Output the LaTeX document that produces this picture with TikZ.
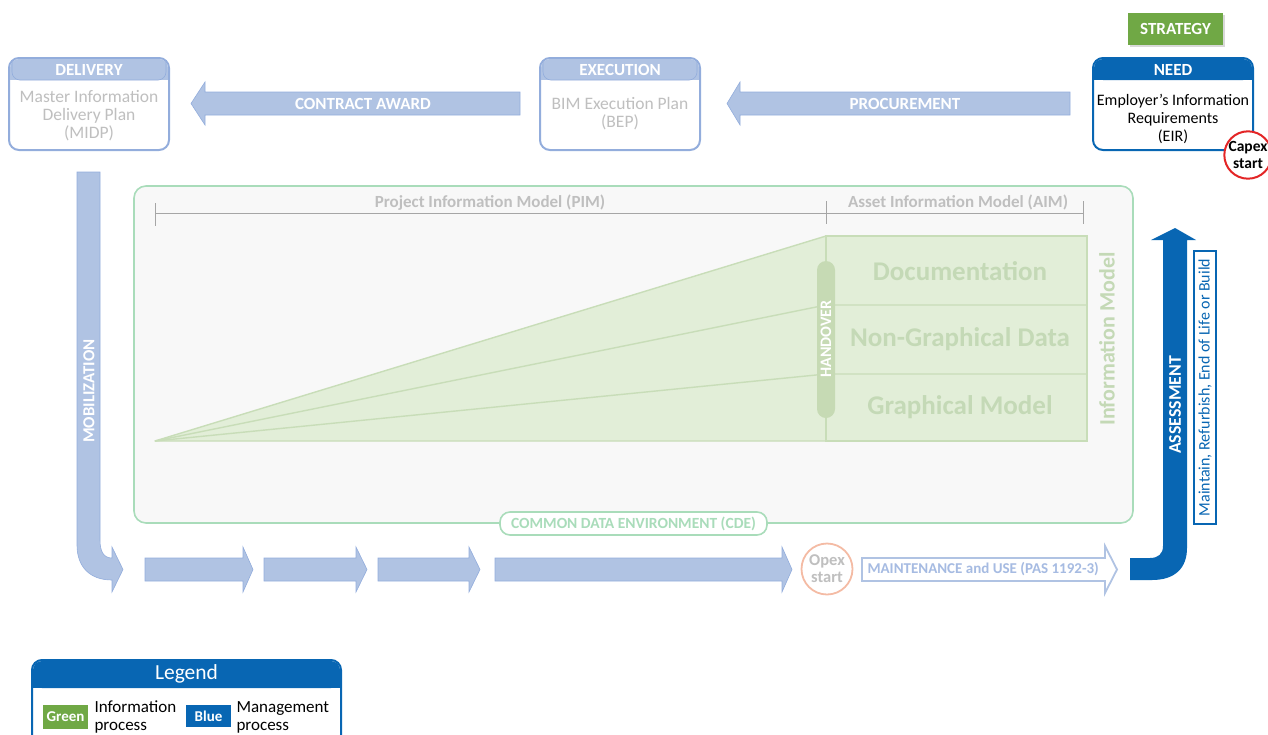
\documentclass[tikz,border=0pt]{standalone}
\usepackage{fontspec}
\setmainfont{Carlito}
\usetikzlibrary{calc}
\definecolor{lblue}{HTML}{B0C3E3}
\definecolor{lbluedk}{HTML}{93ADDC}
\definecolor{dblue}{HTML}{0866B3}
\definecolor{sgreen}{HTML}{70A845}
\definecolor{cdegreen}{HTML}{A9DCBA}
\definecolor{cdefill}{HTML}{F8F8F8}
\definecolor{imfill}{HTML}{E2EED8}
\definecolor{imline}{HTML}{C8DDB8}
\definecolor{imtext}{HTML}{C4D9B6}
\definecolor{hofill}{HTML}{C6DAB4}
\definecolor{gtext}{HTML}{BFBFBF}
\definecolor{dimgray}{HTML}{A6A6A6}
\definecolor{capexred}{HTML}{E32526}
\definecolor{opexsal}{HTML}{F4BBA4}
\definecolor{mainttext}{HTML}{A6BBE2}
\newcommand{\fs}[2]{\fontsize{#1}{#2}\selectfont}
\tikzset{
  hdtext/.style={text=white,font=\fs{17}{18}\bfseries},
  bodytext/.style={text=gtext,font=\fs{17.5}{18},align=center},
  arrowfill/.style={fill=lblue,draw=lbluedk,line width=0.6pt},
  arrowtext/.style={text=white,font=\fs{17}{18}\bfseries},
  layertext/.style={text=imtext,font=\fs{27}{28}\bfseries},
  dimtext/.style={text=gtext,font=\fs{17}{18}\bfseries},
}
\begin{document}
\begin{tikzpicture}[x=1pt,y=-1pt]
\useasboundingbox (0,0) rectangle (1268,734);

% ---------- top boxes ----------
% DELIVERY
\draw[lbluedk,line width=2pt,fill=white,rounded corners=10pt] (9,58) rectangle (169,150);
\fill[lblue,rounded corners=9pt] (10,59) rectangle (168,80);
\fill[lblue] (10,70) rectangle (168,80);
\draw[lbluedk,line width=0.6pt,rounded corners=8pt] (12,61) -- (12,80) -- (166,80) -- (166,61);
\node[hdtext] (delh) at (89,69.5) {DELIVERY};
\node[bodytext] (delb) at (89,116) {Master Information\\Delivery Plan\\(MIDP)};

% EXECUTION
\draw[lbluedk,line width=2pt,fill=white,rounded corners=10pt] (540,58) rectangle (700,150);
\fill[lblue,rounded corners=9pt] (541,59) rectangle (699,80);
\fill[lblue] (541,70) rectangle (699,80);
\draw[lbluedk,line width=0.6pt,rounded corners=8pt] (543,61) -- (543,80) -- (697,80) -- (697,61);
\node[hdtext] (exeh) at (620,69.5) {EXECUTION};
\node[bodytext] (exeb) at (620,114) {BIM Execution Plan\\(BEP)};

% NEED
\draw[dblue,line width=2pt,fill=white,rounded corners=10pt] (1093,58) rectangle (1253,150);
\fill[dblue,rounded corners=9pt] (1094,59) rectangle (1252,80);
\fill[dblue] (1094,70) rectangle (1252,80);
\node[hdtext] (needh) at (1173,69.5) {NEED};
\node[text=black,font=\fs{16}{18},align=center] (needb) at (1173,119) {Employer's Information\\Requirements\\(EIR)};

% STRATEGY
\fill[black!15] (1130,15) rectangle (1225,47);
\fill[sgreen] (1128,13) rectangle (1223,45);
\node[hdtext] (strat) at (1175.5,29) {STRATEGY};

% Capex start
\node[circle,draw=capexred,line width=2pt,fill=white,minimum size=44pt,inner sep=0pt,
  font=\fs{15.5}{17}\bfseries,align=center,text=black] (capex) at (1248,155) {Capex\\start};

% top arrows
\path[arrowfill] (520,92) -- (205,92) -- (205,82) -- (191,103.5) -- (205,125) -- (205,115) -- (520,115) -- cycle;
\node[arrowtext] (contract) at (363,103.5) {CONTRACT AWARD};
\path[arrowfill] (1070,92) -- (740,92) -- (740,82) -- (727,103.5) -- (740,125) -- (740,115) -- (1070,115) -- cycle;
\node[arrowtext] (procure) at (905,103.5) {PROCUREMENT};

% ---------- CDE ----------
\draw[cdegreen,line width=1.6pt,fill=cdefill,rounded corners=12pt] (134,186) rectangle (1133,523);

% dimension lines
\draw[dimgray,line width=1pt] (155,213) -- (1083,213);
\draw[dimgray,line width=1pt] (155,203) -- (155,226);
\draw[dimgray,line width=1pt] (826,201) -- (826,224);
\draw[dimgray,line width=1pt] (1083,201) -- (1083,224);
\node[dimtext] (pim) at (490,202.5) {Project Information Model (PIM)};
\node[dimtext] (aim) at (958,202.5) {Asset Information Model (AIM)};

% wedge and layers
\draw[imline,line width=1.4pt,fill=imfill,line join=round] (155,441) -- (826,236) -- (826,441) -- cycle;
\draw[imline,line width=1.4pt,fill=imfill] (826,236) rectangle (1087,441);
\draw[imline,line width=1.4pt] (155,441) -- (826,305) -- (1087,305);
\draw[imline,line width=1.4pt] (155,441) -- (826,374) -- (1087,374);
\node[layertext] (doc) at (960,271) {Documentation};
\node[layertext] (ngd) at (960,339) {Non-Graphical Data};
\node[layertext] (gm) at (960,407) {Graphical Model};
\node[rotate=90,text=imtext,font=\fs{22}{24}\bfseries] (infm) at (1107,339) {Information Model};

% handover pill
\fill[hofill,rounded corners=9pt] (817,261) rectangle (835,418);
\node[rotate=90,text=white,font=\fs{16}{17}\bfseries] (hand) at (826,339) {HANDOVER};

% CDE label
\node[draw=cdegreen,line width=1.6pt,fill=white,rounded corners=10pt,minimum width=267pt,minimum height=23pt,
  inner sep=0pt,text=cdegreen,font=\fs{15.5}{16}\bfseries] (cde) at (633.5,523.5) {COMMON DATA ENVIRONMENT (CDE)};

% ---------- mobilization ----------
\path[arrowfill] (77,172) -- (100,172) -- (100,540) .. controls (100,552) and (104,558) .. (112,558)
  -- (112,547) -- (123,569.5) -- (112,592) -- (112,580) .. controls (90,580) and (77,567) .. (77,545) -- cycle;
\node[rotate=90,text=white,font=\fs{16.8}{18}\bfseries] (mob) at (89,391) {MOBILIZATION};

% right arrows
\path[arrowfill] (145,558) -- (243,558) -- (243,547) -- (253,569.5) -- (243,592) -- (243,581) -- (145,581) -- cycle;
\path[arrowfill] (264,558) -- (356,558) -- (356,547) -- (367,569.5) -- (356,592) -- (356,581) -- (264,581) -- cycle;
\path[arrowfill] (378,558) -- (469,558) -- (469,547) -- (480,569.5) -- (469,592) -- (469,581) -- (378,581) -- cycle;
\path[arrowfill] (495,558) -- (782,558) -- (782,547) -- (792,569.5) -- (782,592) -- (782,581) -- (495,581) -- cycle;

% Opex start
\node[circle,draw=opexsal,line width=1.8pt,fill=white,minimum size=51pt,inner sep=0pt,
  font=\fs{16.5}{17}\bfseries,align=center,text=gtext] (opex) at (827,569) {Opex\\start};

% maintenance arrow
\draw[lblue,line width=1.8pt,fill=white,line join=miter] (862,558) -- (1105,558) -- (1105,546) -- (1117,569.5) -- (1105,593) -- (1105,581) -- (862,581) -- cycle;
\node[text=mainttext,font=\fs{15}{16}\bfseries,anchor=west] (maint) at (864,569.5) {MAINTENANCE and USE (PAS 1192-3)};

% assessment arrow
\fill[dblue] (1130,558) -- (1150,558) .. controls (1158,558) and (1163,554) .. (1163,546) -- (1163,240)
  -- (1151,240) -- (1175,228) -- (1196,240) -- (1187,240) -- (1187,548) .. controls (1187,568) and (1175,580) .. (1152,580)
  -- (1130,580) -- cycle;
\node[rotate=90,text=white,font=\fs{17.8}{18}\bfseries] (assess) at (1175,405) {ASSESSMENT};
\node[draw=dblue,line width=1.5pt,fill=white,rotate=90,minimum width=273pt,minimum height=22pt,inner sep=0pt,
  text=dblue,font=\fs{16}{17}] (mrb) at (1205,387.5) {Maintain, Refurbish, End of Life or Build};

% ---------- legend ----------
\draw[dblue,line width=2pt,fill=white,rounded corners=10pt] (32,660) rectangle (341,745);
\fill[dblue,rounded corners=9pt] (33,661) rectangle (340,688);
\fill[dblue] (33,675) rectangle (340,688);
\node[text=white,font=\fs{21.5}{22}] (leg) at (186.5,674) {Legend};
\node[fill=sgreen,minimum width=45pt,minimum height=24pt,inner sep=0pt,text=white,font=\fs{15}{16}\bfseries] (lg) at (65.5,717) {Green};
\node[anchor=west,align=left,font=\fs{17}{18},text=black] (lgt) at (91,717) {Information\\process};
\node[fill=dblue,minimum width=45pt,minimum height=22pt,inner sep=0pt,text=white,font=\fs{15}{16}\bfseries] (lb) at (208.5,716) {Blue};
\node[anchor=west,align=left,font=\fs{17}{18},text=black] (lbt) at (233,717) {Management\\process};
\end{tikzpicture}
\end{document}
